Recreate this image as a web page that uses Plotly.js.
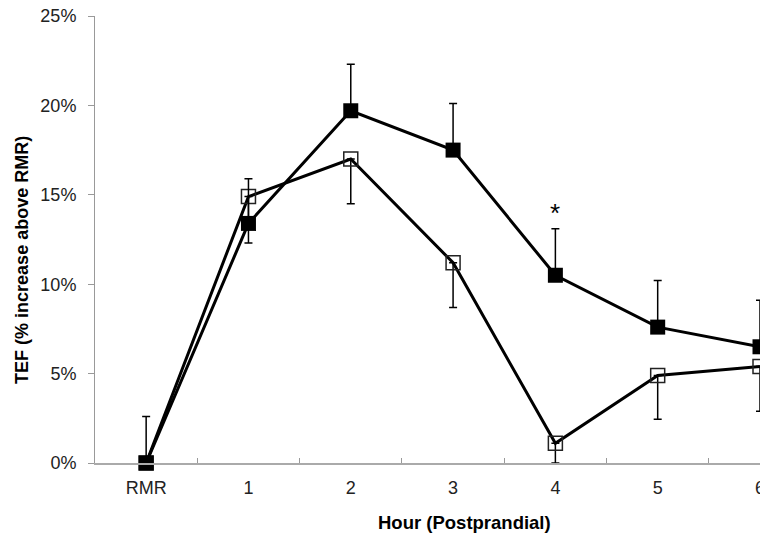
<!DOCTYPE html>
<html><head><meta charset="utf-8">
<script src="https://cdn.plot.ly/plotly-3.0.1.min.js"></script>
<style>html,body{margin:0;padding:0;background:#fff}#chart{width:760px;height:535px}</style>
</head><body><div id="chart"></div>
<script>
const hours = ["RMR", "1", "2", "3", "4", "5", "6"];
const filledTEF = [0.0, 13.4, 19.7, 17.5, 10.5, 7.6, 6.5];
const filledErrUp = [2.6, 2.5, 2.6, 2.6, 2.6, 2.6, 2.6];
const openTEF = [0.0, 14.9, 17.0, 11.2, 1.1, 4.9, 5.4];
const openErrDown = [0.0, 2.6, 2.5, 2.5, 1.1, 2.45, 2.5];
const yTicks = [0, 5, 10, 15, 20, 25];
const yTickText = ["0%", "5%", "10%", "15%", "20%", "25%"];

const font = "Liberation Sans, Arial, sans-serif";

const traces = [
  {
    x: hours, y: openTEF, type: "scatter", mode: "lines+markers", cliponaxis: false,
    line: {color: "#000", width: 3},
    marker: {symbol: "square-open", size: 14, color: "#222", line: {width: 1.5, color: "#222"}},
    error_y: {type: "data", symmetric: false, array: openTEF.map(() => 0), arrayminus: openErrDown,
              color: "#000", thickness: 1.5, width: 4},
    showlegend: false
  },
  {
    x: hours, y: filledTEF, type: "scatter", mode: "lines+markers", cliponaxis: false,
    line: {color: "#000", width: 3},
    marker: {symbol: "square", size: 15, color: "#000"},
    error_y: {type: "data", symmetric: false, array: filledErrUp, arrayminus: filledTEF.map(() => 0),
              color: "#000", thickness: 1.5, width: 4},
    showlegend: false
  }
];

const layout = {
  width: 760, height: 535,
  margin: {l: 95, r: 0, t: 16, b: 72},
  paper_bgcolor: "#fff", plot_bgcolor: "#fff",
  font: {family: font, color: "#222", size: 18},
  xaxis: {
    type: "category", range: [-0.5, 6.0],
    tickson: "boundaries", ticks: "inside", ticklen: 5, tickcolor: "#999", tickwidth: 1,
    showline: true, linecolor: "#aaa", linewidth: 1.5, showgrid: false, zeroline: false,
    tickfont: {size: 18, color: "#222"}, ticklabelstandoff: 8
  },
  yaxis: {
    range: [0, 25], tickvals: yTicks, ticktext: yTickText,
    ticks: "outside", ticklen: 6, tickcolor: "#999", tickwidth: 1,
    showline: true, linecolor: "#999", linewidth: 1, showgrid: false, zeroline: false,
    tickfont: {size: 18, color: "#222"}, ticklabelstandoff: 8
  },
  annotations: [
    {xref: "paper", yref: "paper", x: -0.11, y: 0.454, text: "<b>TEF (% increase above RMR)</b>",
     textangle: -90, showarrow: false, xanchor: "center", yanchor: "middle",
     font: {size: 18, color: "#000"}},
    {xref: "paper", yref: "paper", x: 0.556, y: -0.134, text: "<b>Hour (Postprandial)</b>",
     showarrow: false, xanchor: "center", yanchor: "middle",
     font: {size: 18.5, color: "#000"}},
    {x: "4", y: 14.0, text: "*", showarrow: false, font: {size: 26, color: "#000"}, yanchor: "middle"}
  ]
};

Plotly.newPlot("chart", traces, layout, {displayModeBar: false, staticPlot: true});
</script>
</body></html>
